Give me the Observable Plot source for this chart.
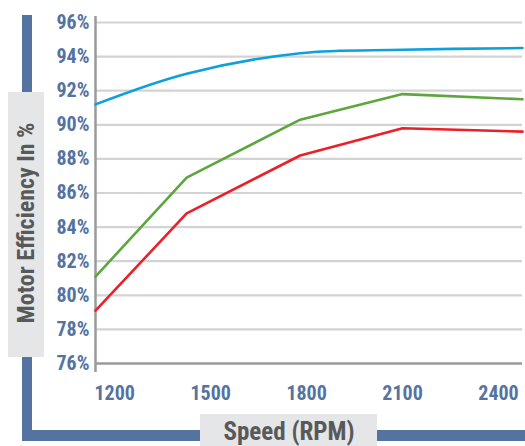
<!DOCTYPE html>
<html>
<head>
<meta charset="utf-8">
<script src="https://cdn.jsdelivr.net/npm/d3@7"></script>
<script src="https://cdn.jsdelivr.net/npm/@observablehq/plot@0.6"></script>
<style>
  html, body { margin: 0; padding: 0; background: #fff; overflow: hidden; }
  #wrap { position: relative; width: 525px; height: 446px; overflow: hidden; background: #fff; }
  .bar { position: absolute; background: #5473a0; }
  .box { position: absolute; background: #e5e6e8; }
  .lbl { position: absolute; font-family: "Liberation Sans Narrow", "Roboto Condensed", "DejaVu Sans Condensed", sans-serif; font-weight: bold; color: #58595b; font-size: 24px; white-space: nowrap; line-height: 1; }
  #chart { position: absolute; left: 0; top: 0; }
</style>
</head>
<body>
<div id="wrap">
  <div class="bar" style="left:22px;top:15px;width:10px;height:426px;"></div>
  <div class="bar" style="left:22px;top:430px;width:503px;height:11px;"></div>
  <div class="box" style="left:8px;top:92px;width:36px;height:265px;"></div>
  <div class="box" style="left:200px;top:414px;width:177px;height:40px;"></div>
  <div class="lbl" id="ylab" style="left:26px;top:223px;transform:translate(-50%,-50%) rotate(-90deg);">Motor Efficiency In %</div>
  <div class="lbl" id="xlab" style="left:289px;top:419px;font-size:25px;transform:translateX(-50%);">Speed (RPM)</div>
  <div id="chart"></div>
</div>
<script>
const rpm = [1140, 1425, 1780, 2100, 2475];
const blueSeries = [91.2, 93.0, 94.2, 94.4, 94.5];
const greenSeries = [81.1, 86.9, 90.3, 91.8, 91.5];
const redSeries = [79.1, 84.8, 88.2, 89.8, 89.6];
const xTicks = [1200, 1500, 1800, 2100, 2400];
const yTicks = [76, 78, 80, 82, 84, 86, 88, 90, 92, 94, 96];

const toRows = (vals) => rpm.map((r, i) => ({rpm: r, eff: vals[i]}));
const blue = toRows(blueSeries);
const green = toRows(greenSeries);
const red = toRows(redSeries);

const fam = '"Liberation Sans Narrow", "Roboto Condensed", "DejaVu Sans Condensed", sans-serif';

const chart = Plot.plot({
  width: 525,
  height: 446,
  marginLeft: 95,
  marginRight: 3,
  marginTop: 22,
  marginBottom: 83,
  style: {background: "transparent", fontFamily: fam, fontSize: "20px", fontWeight: "bold", color: "#5473a0", overflow: "visible"},
  x: {domain: [rpm[0], rpm[rpm.length - 1]], axis: null},
  y: {domain: [76, 96], axis: null},
  marks: [
    Plot.gridY(yTicks.filter(d => d > 76), {stroke: "#d3d3d3", strokeWidth: 2.2, strokeOpacity: 1}),
    Plot.ruleY([76], {stroke: "#9a9a9a", strokeWidth: 2.5}),
    Plot.ruleX([rpm[0]], {stroke: "#9a9a9a", strokeWidth: 2.5, insetTop: -6, insetBottom: -9}),
    Plot.axisY({ticks: yTicks, tickSize: 0, tickPadding: 6, tickFormat: d => d + "%", fill: "#5473a0", fontWeight: "bold", fontSize: 20, label: null}),
    Plot.axisX({ticks: xTicks, tickSize: 0, tickPadding: 22, tickFormat: d => String(d), fill: "#5473a0", fontWeight: "bold", fontSize: 20, label: null}),
    Plot.line(blue, {x: "rpm", y: "eff", stroke: "#0ea0dd", strokeWidth: 2.6, curve: "catmull-rom"}),
    Plot.line(green, {x: "rpm", y: "eff", stroke: "#5ca63e", strokeWidth: 2.6}),
    Plot.line(red, {x: "rpm", y: "eff", stroke: "#ea1f28", strokeWidth: 2.6})
  ]
});
document.getElementById("chart").appendChild(chart);
</script>
</body>
</html>
